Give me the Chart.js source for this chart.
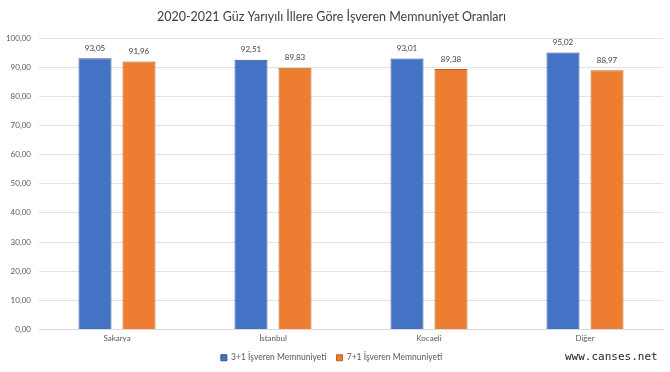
<!DOCTYPE html>
<html>
<head>
<meta charset="utf-8">
<script src="https://cdn.jsdelivr.net/npm/chart.js@4/dist/chart.umd.min.js"></script>
<style>
html,body{margin:0;padding:0;background:#fff;}
#wrap{position:relative;width:670px;height:372px;}
#wm{position:absolute;left:565px;top:350px;font-family:"DejaVu Sans Mono",monospace;font-size:11px;color:#222;}
</style>
</head>
<body>
<div id="wrap"><canvas id="c" width="670" height="372"></canvas><div id="wm">www.canses.net</div></div>
<script>
const categories = ["Sakarya", "İstanbul", "Kocaeli", "Diğer"];
const series1Name = "3+1 İşveren Memnuniyeti";
const series2Name = "7+1 İşveren Memnuniyeti";
const series1 = [93.05, 92.51, 93.01, 95.02];
const series2 = [91.96, 89.83, 89.38, 88.97];
const titleText = "2020-2021 Güz Yarıyılı İllere Göre İşveren Memnuniyet Oranları";

const FONT = 'Lato, "Open Sans", sans-serif';
const fmt = v => v.toFixed(2).replace('.', ',');

const labelPlugin = {
  id: 'valLabels',
  afterDatasetsDraw(chart) {
    const ctx = chart.ctx;
    ctx.save();
    ctx.font = '8px ' + FONT;
    ctx.fillStyle = '#404040';
    ctx.textAlign = 'center';
    ctx.textBaseline = 'bottom';
    chart.data.datasets.forEach((ds, i) => {
      const meta = chart.getDatasetMeta(i);
      meta.data.forEach((bar, j) => {
        ctx.fillText(fmt(ds.data[j]), bar.x, bar.y - 6);
      });
    });
    ctx.restore();
  }
};

new Chart(document.getElementById('c'), {
  type: 'bar',
  data: {
    labels: categories,
    datasets: [
      { label: series1Name, data: series1, backgroundColor: '#4472C4', borderColor: '#2F528F', borderWidth: 1 },
      { label: series2Name, data: series2, backgroundColor: '#ED7D31', borderColor: '#B9601F', borderWidth: 1 }
    ]
  },
  options: {
    responsive: false,
    animation: false,
    devicePixelRatio: 1,
    layout: { padding: { left: 0, right: 7, top: 6, bottom: 0 } },
    datasets: { bar: { categoryPercentage: 0.564, barPercentage: 0.75 } },
    plugins: {
      title: { display: true, text: titleText, color: '#404040', font: { family: FONT, size: 12.5, weight: 'normal' }, padding: { top: 3, bottom: 14 } },
      legend: {
        position: 'bottom',
        labels: { boxWidth: 6, boxHeight: 6, color: '#595959', font: { family: FONT, size: 8.5 }, padding: 10 }
      },
      tooltip: { enabled: false }
    },
    scales: {
      x: {
        afterFit(scale) { scale.height = 14; },
        grid: { display: false, drawTicks: false },
        border: { display: true, color: '#d9d9d9' },
        ticks: { color: '#595959', font: { family: FONT, size: 8 }, padding: 4 }
      },
      y: {
        min: 0, max: 100,
        afterFit(scale) { scale.width = 39; },
        grid: { color: '#e3e3e3', drawTicks: false },
        border: { display: false },
        ticks: { stepSize: 10, color: '#595959', font: { family: FONT, size: 8 }, padding: 8, callback: v => fmt(v) }
      }
    }
  },
  plugins: [labelPlugin]
});
</script>
</body>
</html>
